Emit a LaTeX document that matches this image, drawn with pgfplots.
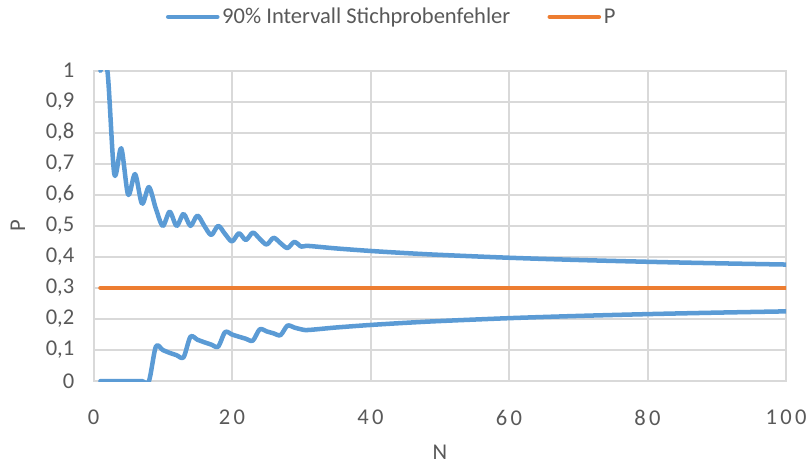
\documentclass[border=0pt]{standalone}
\usepackage{fontspec}
\setmainfont{Carlito}
\newfontfamily\spaced[LetterSpace=15]{Carlito}
\usepackage{pgfplots}
\pgfplotsset{compat=1.18}
\definecolor{cblue}{HTML}{5B9BD5}
\definecolor{corange}{HTML}{ED7D31}
\definecolor{ctext}{HTML}{595959}
\definecolor{cgrid}{HTML}{D9D9D9}
\pgfplotstableread{
x y
1 1
2 1
3 0.6667
4 0.75
5 0.6
6 0.6667
7 0.5714
8 0.625
9 0.5556
10 0.5
11 0.5455
12 0.5
13 0.5385
14 0.5
15 0.5333
16 0.5
17 0.4706
18 0.5
19 0.4737
20 0.45
21 0.4762
22 0.4545
23 0.4783
24 0.4583
25 0.44
26 0.4615
27 0.4444
28 0.4286
29 0.4483
30 0.4333
31 0.4354
35 0.4274
40 0.4192
45 0.4124
50 0.4066
60 0.3973
70 0.3901
80 0.3843
90 0.3795
100 0.3754
}\upperdata
\pgfplotstableread{
x y
1 0
2 0
3 0
4 0
5 0
6 0
7 0
8 0
9 0.1111
10 0.1
11 0.0909
12 0.0833
13 0.0769
14 0.1429
15 0.1333
16 0.125
17 0.1176
18 0.1111
19 0.1579
20 0.15
21 0.1429
22 0.1364
23 0.1304
24 0.1667
25 0.16
26 0.1538
27 0.1481
28 0.1786
29 0.1724
30 0.1667
31 0.1646
35 0.1726
40 0.1808
45 0.1876
50 0.1934
60 0.2027
70 0.2099
80 0.2157
90 0.2205
100 0.2246
}\lowerdata
\begin{document}
\begin{tikzpicture}
\begin{axis}[name=ax, scale only axis, width=522pt, height=234pt,
  xmin=0, xmax=100, ymin=0, ymax=1,
  xtick={0,20,40,60,80,100},
  ytick={0,0.1,0.2,0.3,0.4,0.5,0.6,0.7,0.8,0.9,1},
  grid=major, major grid style={cgrid, line width=1.5pt},
  axis line style={draw=cgrid, line width=1.5pt},
  major tick length=0pt,
  /pgf/number format/assume math mode=true,
  /pgf/number format/use comma, /pgf/number format/fixed, /pgf/number format/precision=1,
  tick label style={font=\fontsize{17}{20}\selectfont, text=ctext},
  yticklabel style={xshift=-11pt},
  xticklabel style={font=\spaced\fontsize{17}{20}\selectfont, yshift=-18.5pt},
  xlabel={N}, ylabel={P},
  label style={font=\fontsize{17}{20}\selectfont, text=ctext},
  xlabel style={at={(axis description cs:0.5,0)}, anchor=center, yshift=-54pt},
  ylabel style={at={(axis description cs:0,0.5)}, anchor=center, yshift=57pt},
  legend columns=2,
  legend style={at={(0.5,1)}, anchor=center, yshift=40.5pt, xshift=-36pt, draw=none, fill=none,
    font=\fontsize{17}{20}\selectfont, text=ctext,
    /tikz/every even column/.append style={column sep=26pt}},
  legend image code/.code={\draw[#1, line width=3.4pt, line cap=round] (0pt,0pt) -- (37pt,0pt);},
]
\addplot[cblue, line width=3.4pt, line cap=round, line join=round, smooth, tension=0.5] table[x=x,y=y] {\upperdata};
\addlegendentry{90\% Intervall Stichprobenfehler}
\addplot[cblue, line width=3.4pt, line cap=round, line join=round, smooth, tension=0.5, forget plot] table[x=x,y=y] {\lowerdata};
\addplot[corange, line width=3.4pt, line cap=round] coordinates {(1,0.3) (100,0.3)};
\addlegendentry{P}
\end{axis}
\path ([shift={(-70.5pt,-57.75pt)}]ax.south west) rectangle ([shift={(15.75pt,53.25pt)}]ax.north east);
\end{tikzpicture}
\end{document}
